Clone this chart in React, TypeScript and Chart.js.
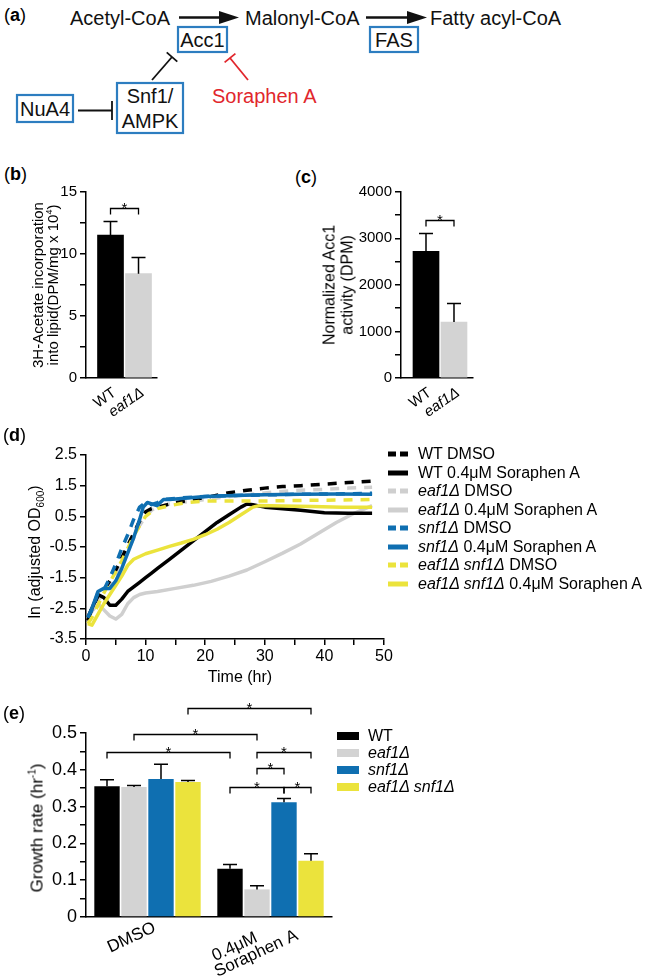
import React, { useEffect, useRef } from 'react';
import { Chart, registerables } from 'chart.js';
Chart.register(...registerables);

const FONT = "'Liberation Sans', Arial, Helvetica, sans-serif";
const BLACK = '#000000';
const GREY = '#d3d3d3';
const GREY_LINE = '#cfcfcf';
const BLUE = '#0f6fb1';
const YELLOW = '#ebe33c';
const BOX_BLUE = '#2d7dc0';
const RED = '#e1262c';

type Pt = [number, number];

// ---------- (b) lipid synthesis ----------
const bCategories = ['WT', 'eaf1Δ'];
const bValues = [11.5, 8.4];
const bErrors = [12.6, 9.7];

// ---------- (c) Acc1 activity ----------
const cCategories = ['WT', 'eaf1Δ'];
const cValues = [2720, 1200];
const cErrors = [3100, 1600];

// ---------- (d) growth curves: [time (hr), ln(adjusted OD600)] ----------
const wtDmso: Pt[] = [[0.3, -2.8], [1, -2.5], [2, -2.1], [3, -1.9], [4, -1.6], [5, -1.25], [6, -0.85], [7, -0.45], [8, -0.05], [9, 0.35], [10, 0.65], [11, 0.75], [12, 0.8], [13, 0.85], [15, 0.95], [18, 1.05], [21, 1.15], [24, 1.27], [27, 1.35], [30, 1.42], [33, 1.47], [36, 1.5], [40, 1.55], [44, 1.6], [48, 1.65]];
const wtSor: Pt[] = [[0.3, -2.9], [1, -2.5], [2, -2.05], [3, -2.15], [4, -2.4], [5, -2.4], [6, -2.2], [7, -1.95], [8, -1.8], [9, -1.65], [10, -1.5], [11, -1.35], [12, -1.2], [13, -1.05], [14, -0.9], [16, -0.6], [18, -0.3], [20, 0.0], [22, 0.3], [24, 0.55], [26, 0.8], [27, 0.9], [28, 0.88], [30, 0.8], [33, 0.75], [36, 0.7], [40, 0.62], [44, 0.6], [48, 0.6]];
const eafDmso: Pt[] = [[0.3, -2.8], [1, -2.55], [2, -2.25], [3, -2.0], [4, -1.75], [5, -1.4], [6, -1.0], [7, -0.6], [8, -0.2], [9, 0.2], [10, 0.5], [11, 0.7], [12, 0.8], [14, 0.9], [17, 0.98], [20, 1.05], [24, 1.15], [28, 1.22], [32, 1.3], [36, 1.35], [40, 1.38], [44, 1.42], [48, 1.45]];
const eafSor: Pt[] = [[0.3, -2.8], [1, -2.6], [2, -2.35], [3, -2.55], [4, -2.75], [5, -2.85], [6, -2.7], [7, -2.35], [8, -2.15], [9, -2.05], [10, -2.0], [12, -1.95], [15, -1.85], [18, -1.75], [21, -1.62], [24, -1.45], [27, -1.25], [30, -0.98], [33, -0.7], [36, -0.4], [39, -0.05], [42, 0.3], [45, 0.6], [48, 0.85]];
const snfDmso: Pt[] = [[0.3, -2.8], [1, -2.55], [2, -2.0], [3, -1.9], [4, -1.5], [5, -1.05], [6, -0.55], [7, -0.1], [8, 0.4], [9, 0.8], [10, 0.95], [11, 0.88], [12, 0.95], [13, 1.05], [16, 1.1], [20, 1.15], [25, 1.18], [30, 1.2], [36, 1.22], [42, 1.23], [48, 1.25]];
const snfSor: Pt[] = [[0.3, -2.8], [1, -2.5], [2, -1.95], [3, -1.85], [4, -1.85], [5, -1.6], [6, -1.2], [7, -0.7], [8, -0.2], [9, 0.4], [9.6, 0.8], [10.3, 0.95], [11.9, 0.85], [13, 1.05], [14, 1.05], [17, 1.1], [20, 1.15], [25, 1.18], [30, 1.2], [36, 1.22], [42, 1.23], [48, 1.22]];
const dblDmso: Pt[] = [[0.3, -3.0], [1, -2.8], [2, -2.4], [3, -2.0], [4, -1.65], [5, -1.3], [6, -0.95], [7, -0.55], [8, -0.15], [9, 0.2], [10, 0.5], [11, 0.65], [12, 0.75], [14, 0.85], [17, 0.95], [20, 1.0], [25, 1.0], [30, 1.0], [36, 1.02], [42, 1.03], [48, 1.05]];
const dblSor: Pt[] = [[0.3, -3.0], [1, -3.05], [2, -2.7], [3, -2.35], [4, -2.05], [5, -1.75], [6, -1.45], [7, -1.1], [8, -0.9], [10, -0.72], [12, -0.6], [14, -0.48], [16, -0.37], [18, -0.25], [20, -0.1], [22, 0.08], [24, 0.3], [26, 0.55], [28, 0.8], [29, 0.85], [33, 0.84], [38, 0.82], [43, 0.8], [48, 0.8]];

const dItalic = ['', '', 'eaf1Δ', 'eaf1Δ', 'snf1Δ', 'snf1Δ', 'eaf1Δ snf1Δ', 'eaf1Δ snf1Δ'];
const dRest = ['WT DMSO', 'WT 0.4μM Soraphen A', ' DMSO', ' 0.4μM Soraphen A', ' DMSO', ' 0.4μM Soraphen A', ' DMSO', ' 0.4μM Soraphen A'];
const dPoints = [wtDmso, wtSor, eafDmso, eafSor, snfDmso, snfSor, dblDmso, dblSor];
const dColors = [BLACK, BLACK, GREY_LINE, GREY_LINE, BLUE, BLUE, YELLOW, YELLOW];
const dDashed = [true, false, true, false, true, false, true, false];
const dOrder = [3, 5, 6, 7, 1, 0, 2, 4];

// ---------- (e) growth rates ----------
const NB = '\u00a0';
const eGroups: (string | string[])[] = ['DMSO' + NB.repeat(3), ['0.4μM' + NB.repeat(8), 'Soraphen A']];
const eStrains = ['WT', 'eaf1Δ', 'snf1Δ', 'eaf1Δ snf1Δ'];
const eWT = [0.355, 0.131];
const eEaf1 = [0.353, 0.075];
const eSnf1 = [0.375, 0.312];
const eDouble = [0.367, 0.153];
const eWTErr = [0.373, 0.143];
const eEaf1Err = [0.357, 0.085];
const eSnf1Err = [0.415, 0.322];
const eDoubleErr = [0.371, 0.172];
const eColors = [BLACK, GREY, BLUE, YELLOW];

type Bracket = { a: [number, number]; b: [number, number]; y: number };
const bBrackets: Bracket[] = [{ a: [0, 0], b: [0, 1], y: 13.7 }];
const cBrackets: Bracket[] = [{ a: [0, 0], b: [0, 1], y: 3390 }];
const eBrackets: Bracket[] = [
  { a: [3, 0], b: [3, 1], y: 0.568 },
  { a: [1, 0], b: [1, 1], y: 0.497 },
  { a: [0, 0], b: [0, 1], y: 0.449 },
  { a: [1, 1], b: [3, 1], y: 0.449 },
  { a: [1, 1], b: [2, 1], y: 0.405 },
  { a: [0, 1], b: [2, 1], y: 0.353 },
  { a: [2, 1], b: [3, 1], y: 0.353 },
];

// ---------- plugins ----------
function errorBarPlugin(cap: number) {
  return {
    id: 'errorBars',
    afterDatasetsDraw(chart: any) {
      const ctx = chart.ctx;
      const ys = chart.scales.y;
      ctx.save();
      ctx.strokeStyle = BLACK;
      ctx.lineWidth = 1.5;
      chart.data.datasets.forEach((ds: any, i: number) => {
        if (!ds.errorTop) return;
        const meta = chart.getDatasetMeta(i);
        meta.data.forEach((el: any, j: number) => {
          const e = ds.errorTop[j];
          if (e == null) return;
          const yt = ys.getPixelForValue(e);
          ctx.beginPath();
          ctx.moveTo(el.x, el.y);
          ctx.lineTo(el.x, yt);
          ctx.moveTo(el.x - cap, yt);
          ctx.lineTo(el.x + cap, yt);
          ctx.stroke();
        });
      });
      ctx.restore();
    },
  };
}

function bracketPlugin(items: Bracket[], drop: number, starSize: number) {
  return {
    id: 'sigBrackets',
    afterDatasetsDraw(chart: any) {
      const ctx = chart.ctx;
      const ys = chart.scales.y;
      ctx.save();
      ctx.strokeStyle = BLACK;
      ctx.fillStyle = BLACK;
      ctx.lineWidth = 1.3;
      ctx.font = `${starSize}px ${FONT}`;
      ctx.textAlign = 'center';
      ctx.textBaseline = 'alphabetic';
      for (const it of items) {
        const xa = chart.getDatasetMeta(it.a[0]).data[it.a[1]].x;
        const xb = chart.getDatasetMeta(it.b[0]).data[it.b[1]].x;
        const y = Math.round(ys.getPixelForValue(it.y)) + 0.5;
        ctx.beginPath();
        ctx.moveTo(xa, y + drop);
        ctx.lineTo(xa, y);
        ctx.lineTo(xb, y);
        ctx.lineTo(xb, y + drop);
        ctx.stroke();
        ctx.fillText('*', (xa + xb) / 2, y + starSize * 0.3);
      }
      ctx.restore();
    },
  };
}

// ---------- helpers ----------
function gridOpts(ticks: boolean) {
  return { display: true, drawOnChartArea: false, drawTicks: ticks, tickLength: 6, color: BLACK, lineWidth: 1.5 };
}
const borderOpts = { display: true, color: BLACK, width: 1.5 };

function smallBarConfig(cats: string[], values: number[], errors: number[], yMax: number, yStep: number, labelEvery: number, xMin: number, xMax: number, brackets: Bracket[], box: { pt: number; pr: number; yw: number; xh: number }) {
  return {
    type: 'bar',
    data: {
      datasets: [{
        data: values.map((v, i) => ({ x: i, y: v })),
        backgroundColor: [BLACK, GREY],
        borderWidth: 0,
        barThickness: 26,
        errorTop: errors,
      }],
    },
    options: {
      responsive: false,
      animation: false,
      devicePixelRatio: 1,
      layout: { padding: { left: 0, right: box.pr, top: box.pt, bottom: 0 } },
      plugins: { legend: { display: false }, tooltip: { enabled: false } },
      scales: {
        x: {
          type: 'linear',
          min: xMin,
          max: xMax,
          offset: false,
          afterBuildTicks: (s: any) => { s.ticks = cats.map((_, i) => ({ value: i })); },
          afterFit: (s: any) => { s.height = box.xh; },
          grid: gridOpts(false),
          border: borderOpts,
          ticks: {
            color: BLACK,
            autoSkip: false,
            minRotation: 35,
            maxRotation: 35,
            padding: 6,
            labelOffset: 4,
            font: (ctx: any) => ({ family: FONT, size: 15, style: ctx.index === 1 ? 'italic' : 'normal' }),
            callback: (v: any) => cats[v] ?? '',
          },
        },
        y: {
          min: 0,
          max: yMax,
          afterFit: (s: any) => { s.width = box.yw; },
          grid: gridOpts(true),
          border: borderOpts,
          ticks: {
            color: BLACK,
            stepSize: yStep,
            autoSkip: false,
            padding: 3,
            font: { family: FONT, size: 15 },
            callback: (v: any) => (Math.abs(v % labelEvery) < 1e-6 ? String(v) : ''),
          },
        },
      },
    },
    plugins: [errorBarPlugin(7), bracketPlugin(brackets, 6, 15)],
  };
}

function lineConfig() {
  return {
    type: 'line',
    data: {
      datasets: dPoints.map((pts, i) => ({
        label: dItalic[i] + dRest[i],
        data: pts.map(([x, y]) => ({ x, y })),
        borderColor: dColors[i],
        borderWidth: 3.5,
        borderDash: dDashed[i] ? [9, 8] : [],
        borderCapStyle: 'butt',
        borderJoinStyle: 'round',
        pointRadius: 0,
        fill: false,
        tension: 0,
        order: dOrder[i],
      })),
    },
    options: {
      responsive: false,
      animation: false,
      devicePixelRatio: 1,
      layout: { padding: { left: 0, right: 16, top: 15, bottom: 0 } },
      plugins: { legend: { display: false }, tooltip: { enabled: false } },
      scales: {
        x: {
          type: 'linear',
          min: 0,
          max: 50,
          afterFit: (s: any) => { s.height = 30; },
          grid: gridOpts(true),
          border: borderOpts,
          ticks: {
            color: BLACK,
            stepSize: 5,
            autoSkip: false,
            maxRotation: 0,
            padding: 2,
            font: { family: FONT, size: 16 },
            callback: (v: any) => (v % 10 === 0 ? String(v) : ''),
          },
        },
        y: {
          min: -3.5,
          max: 2.5,
          afterFit: (s: any) => { s.width = 66; },
          grid: gridOpts(true),
          border: borderOpts,
          ticks: {
            color: BLACK,
            stepSize: 1,
            autoSkip: false,
            padding: 3,
            font: { family: FONT, size: 16 },
          },
        },
      },
    },
  };
}

function groupedBarConfig() {
  const vals = [eWT, eEaf1, eSnf1, eDouble];
  const errs = [eWTErr, eEaf1Err, eSnf1Err, eDoubleErr];
  return {
    type: 'bar',
    data: {
      labels: eGroups,
      datasets: eStrains.map((name, k) => ({
        label: name,
        data: vals[k],
        errorTop: errs[k],
        backgroundColor: eColors[k],
        borderWidth: 0,
        categoryPercentage: 0.878,
        barPercentage: 0.94,
      })),
    },
    options: {
      responsive: false,
      animation: false,
      devicePixelRatio: 1,
      layout: { padding: { left: 0, right: 18, top: 43, bottom: 0 } },
      plugins: { legend: { display: false }, tooltip: { enabled: false } },
      scales: {
        x: {
          afterFit: (s: any) => { s.height = 61; },
          grid: gridOpts(false),
          border: borderOpts,
          ticks: {
            color: BLACK,
            autoSkip: false,
            minRotation: 25,
            maxRotation: 25,
            padding: -3,
            labelOffset: 20,
            font: { family: FONT, size: 17, lineHeight: 0.9 },
          },
        },
        y: {
          min: 0,
          max: 0.5,
          afterFit: (s: any) => { s.width = 66; },
          grid: gridOpts(true),
          border: borderOpts,
          ticks: {
            color: BLACK,
            stepSize: 0.05,
            autoSkip: false,
            padding: 3,
            font: { family: FONT, size: 18 },
            callback: (v: any) => {
              const r = Math.round(v * 100);
              return r % 10 === 0 ? String(r / 100) : '';
            },
          },
        },
      },
    },
    plugins: [errorBarPlugin(7), bracketPlugin(eBrackets, 6, 15)],
  };
}

// ---------- components ----------
function ChartCanvas({ left, top, width, height, make }: { left: number; top: number; width: number; height: number; make: () => any }) {
  const ref = useRef<HTMLCanvasElement | null>(null);
  useEffect(() => {
    const chart = new Chart(ref.current as HTMLCanvasElement, make());
    return () => chart.destroy();
  }, []);
  return (
    <canvas
      ref={ref}
      width={width}
      height={height}
      style={{ position: 'absolute', left, top, width, height, display: 'block' }}
    />
  );
}

function Txt({ x, y, size, children, rotate, lh }: { x: number; y: number; size: number; children: React.ReactNode; rotate?: boolean; lh?: number }) {
  return (
    <div
      style={{
        position: 'absolute',
        left: x,
        top: y,
        transform: `translate(-50%, -50%)${rotate ? ' rotate(-90deg)' : ''}`,
        fontFamily: FONT,
        fontSize: size,
        lineHeight: `${lh ?? size}px`,
        whiteSpace: 'nowrap',
        textAlign: 'center',
        color: BLACK,
      }}
    >
      {children}
    </div>
  );
}

function PanelLabel({ x, y, letter }: { x: number; y: number; letter: string }) {
  return (
    <div style={{ position: 'absolute', left: x, top: y, fontFamily: FONT, fontSize: 18, lineHeight: '18px', color: BLACK }}>
      (<b>{letter}</b>)
    </div>
  );
}

function PanelA() {
  const t = { fontFamily: FONT, fontSize: 20, fill: '#111' } as any;
  return (
    <svg width={649} height={140} style={{ position: 'absolute', left: 0, top: 0 }}>
      <text x={4} y={21} fontFamily={FONT} fontSize={18} fill="#000">(<tspan fontWeight="bold">a</tspan>)</text>
      <text x={70} y={24.5} {...t}>Acetyl-CoA</text>
      <line x1={179} y1={17.5} x2={222} y2={17.5} stroke="#111" strokeWidth={2.5} />
      <polygon points="219,11 239,17.5 219,24" fill="#111" />
      <text x={245} y={24.5} {...t}>Malonyl-CoA</text>
      <line x1={366} y1={17.5} x2={410} y2={17.5} stroke="#111" strokeWidth={2.5} />
      <polygon points="407,11 427,17.5 407,24" fill="#111" />
      <text x={430} y={24.5} {...t}>Fatty acyl-CoA</text>

      <rect x={178} y={27} width={49} height={25} fill="none" stroke={BOX_BLUE} strokeWidth={2.2} />
      <text x={202.5} y={46.5} textAnchor="middle" {...t}>Acc1</text>
      <rect x={370} y={27} width={48} height={25} fill="none" stroke={BOX_BLUE} strokeWidth={2.2} />
      <text x={394} y={46.5} textAnchor="middle" {...t}>FAS</text>

      <line x1={152} y1={80} x2={172} y2={57} stroke="#111" strokeWidth={1.8} />
      <line x1={166.7} y1={52.4} x2={177.3} y2={61.6} stroke="#111" strokeWidth={1.8} />
      <line x1={248} y1={80} x2={230} y2={58} stroke={RED} strokeWidth={1.8} />
      <line x1={235.4} y1={53.6} x2={224.6} y2={62.4} stroke={RED} strokeWidth={1.8} />
      <text x={212} y={103} fontFamily={FONT} fontSize={20} fill={RED}>Soraphen A</text>

      <rect x={117} y={83} width={66} height={50} fill="none" stroke={BOX_BLUE} strokeWidth={2.2} />
      <text x={150} y={103} textAnchor="middle" {...t}>Snf1/</text>
      <text x={150} y={127.5} textAnchor="middle" {...t}>AMPK</text>
      <rect x={17} y={95} width={56} height={27} fill="none" stroke={BOX_BLUE} strokeWidth={2.2} />
      <text x={45} y={116} textAnchor="middle" {...t}>NuA4</text>
      <line x1={78} y1={110.5} x2={112} y2={110.5} stroke="#111" strokeWidth={1.8} />
      <line x1={112} y1={101} x2={112} y2={120} stroke="#111" strokeWidth={1.8} />
    </svg>
  );
}

function LegendD() {
  const y0 = 454;
  const step = 18.57;
  return (
    <>
      {dRest.map((rest, i) => {
        const cy = y0 + step * i;
        return (
          <React.Fragment key={i}>
            <svg width={20} height={6} style={{ position: 'absolute', left: 388, top: cy - 3 }}>
              <line x1={0} y1={3} x2={20} y2={3} stroke={dColors[i]} strokeWidth={5} strokeDasharray={dDashed[i] ? '8 4' : undefined} />
            </svg>
            <div style={{ position: 'absolute', left: 418, top: cy - 9, fontFamily: FONT, fontSize: 16, lineHeight: '18px', whiteSpace: 'nowrap', color: BLACK }}>
              {dItalic[i] ? <i>{dItalic[i]}</i> : null}{rest}
            </div>
          </React.Fragment>
        );
      })}
    </>
  );
}

function LegendE() {
  const ys = [736, 753, 770, 787];
  return (
    <>
      {eStrains.map((name, i) => (
        <React.Fragment key={i}>
          <div style={{ position: 'absolute', left: 337, top: ys[i] - 4, width: 22, height: 8, background: eColors[i] }} />
          <div style={{ position: 'absolute', left: 368, top: ys[i] - 9, fontFamily: FONT, fontSize: 16, lineHeight: '18px', whiteSpace: 'nowrap', color: BLACK, fontStyle: i === 0 ? 'normal' : 'italic' }}>
            {name}
          </div>
        </React.Fragment>
      ))}
    </>
  );
}

export default function App() {
  return (
    <div style={{ position: 'absolute', left: 0, top: 0, width: 649, height: 978, background: '#fff', overflow: 'hidden' }}>
      <PanelA />

      <PanelLabel x={4} y={165} letter="b" />
      <ChartCanvas left={20} top={170} width={145} height={250}
        make={() => smallBarConfig(bCategories, bValues, bErrors, 15, 2.5, 5, -0.875, 1.66, bBrackets, { pt: 21.7, pr: 8, yw: 66, xh: 42 })} />
      <Txt x={44.5} y={285} size={15} lh={15} rotate>
        3H-Acetate incorporation<br />into lipid(DPM/mg x 10<sup style={{ fontSize: 9, lineHeight: 0 }}>4</sup>)
      </Txt>

      <PanelLabel x={295} y={168} letter="c" />
      <ChartCanvas left={340} top={170} width={145} height={250}
        make={() => smallBarConfig(cCategories, cValues, cErrors, 4000, 500, 1000, -0.893, 1.679, cBrackets, { pt: 21.7, pr: 12, yw: 61, xh: 42 })} />
      <Txt x={338} y={285} size={16} lh={17.5} rotate>
        Normalized Acc1<br />activity (DPM)
      </Txt>

      <PanelLabel x={3} y={426} letter="d" />
      <ChartCanvas left={20} top={440} width={380} height={229} make={lineConfig} />
      <Txt x={35} y={552} size={16} rotate>
        ln (adjusted OD<sub style={{ fontSize: 10, lineHeight: 0 }}>600</sub>)
      </Txt>
      <Txt x={240} y={677} size={16}>Time (hr)</Txt>
      <LegendD />

      <PanelLabel x={3} y={704} letter="e" />
      <ChartCanvas left={20} top={690} width={330} height={288} make={groupedBarConfig} />
      <Txt x={37} y={828} size={17} rotate>
        Growth rate (hr<sup style={{ fontSize: 10, lineHeight: 0 }}>-1</sup>)
      </Txt>
      <LegendE />
    </div>
  );
}
